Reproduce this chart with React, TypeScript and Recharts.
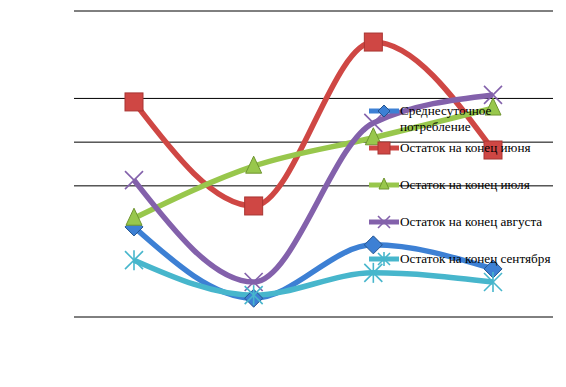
import React from "react";
import { CartesianGrid, Line, LineChart, XAxis, YAxis } from "recharts";

const categories = ["1", "2", "3", "4"];
const avgDaily = [2.06, 0.43, 1.65, 1.1];
const endJune = [4.92, 2.54, 6.29, 3.82];
const endJuly = [2.26, 3.45, 4.1, 4.78];
const endAugust = [3.13, 0.8, 4.44, 5.08];
const endSeptember = [1.3, 0.5, 1.01, 0.8];
const gridTicks = [0, 3, 4, 5, 7];

const series = [
  { key: "avg", name: "Среднесуточное потребление", values: avgDaily, color: "#3d80d4", shape: "diamond" },
  { key: "june", name: "Остаток на конец июня", values: endJune, color: "#cf4744", shape: "square" },
  { key: "july", name: "Остаток на конец июля", values: endJuly, color: "#98c74c", shape: "triangle" },
  { key: "aug", name: "Остаток на конец августа", values: endAugust, color: "#8361ab", shape: "x" },
  { key: "sep", name: "Остаток на конец сентября", values: endSeptember, color: "#47b6cc", shape: "star" },
];

const data = categories.map((c, i) => {
  const row: Record<string, any> = { name: c };
  series.forEach((s) => (row[s.key] = s.values[i]));
  return row;
});

function Marker({ cx, cy, shape, color, size = 9 }: any) {
  if (cx == null || cy == null) return null;
  const s = size;
  if (shape === "diamond")
    return (
      <polygon
        points={`${cx},${cy - s} ${cx + s},${cy} ${cx},${cy + s} ${cx - s},${cy}`}
        fill={color}
        stroke="#24548f"
        strokeWidth={1}
      />
    );
  if (shape === "square")
    return (
      <rect x={cx - s} y={cy - s} width={s * 2} height={s * 2} fill={color} stroke="#a83532" strokeWidth={1} />
    );
  if (shape === "triangle")
    return (
      <polygon
        points={`${cx},${cy - s - 1} ${cx + s - 1},${cy + s - 2} ${cx - s + 1},${cy + s - 2}`}
        fill={color}
        stroke="#6f9530"
        strokeWidth={1}
      />
    );
  if (shape === "x")
    return (
      <g stroke={color} strokeWidth={1.6}>
        <line x1={cx - s} y1={cy - s} x2={cx + s} y2={cy + s} />
        <line x1={cx - s} y1={cy + s} x2={cx + s} y2={cy - s} />
      </g>
    );
  return (
    <g stroke={color} strokeWidth={1.6}>
      <line x1={cx - s} y1={cy - s} x2={cx + s} y2={cy + s} />
      <line x1={cx - s} y1={cy + s} x2={cx + s} y2={cy - s} />
      <line x1={cx} y1={cy - s - 1} x2={cx} y2={cy + s + 1} />
    </g>
  );
}

function LegendBox() {
  return (
    <div
      style={{
        position: "absolute",
        left: 369,
        top: 103,
        width: 192,
        fontFamily: "Liberation Serif",
        fontSize: 13.2,
        lineHeight: "16px",
        color: "#000",
      }}
    >
      {series.map((s) => (
        <div key={s.key} style={{ display: "flex", height: 37, alignItems: "flex-start" }}>
          <svg width={31} height={16} style={{ flex: "none" }}>
            <line x1={0} y1={8} x2={30} y2={8} stroke={s.color} strokeWidth={5} />
            <Marker cx={15} cy={8} shape={s.shape} color={s.color} size={6} />
          </svg>
          <span style={{ width: 158 }}>{s.name}</span>
        </div>
      ))}
    </div>
  );
}

export default function App() {
  return (
    <div style={{ position: "absolute", left: 0, top: 0, width: 566, height: 387, background: "#fff" }}>
      <LineChart width={566} height={387} data={data} margin={{ top: 11, right: 13, bottom: 70, left: 74 }}>
        <CartesianGrid horizontal vertical={false} stroke="#000" strokeWidth={1} />
        <XAxis dataKey="name" hide padding={{ left: 60, right: 60 }} />
        <YAxis hide domain={[0, 7]} ticks={gridTicks} />
        {series.map((s) => (
          <Line
            key={s.key}
            type="monotone"
            dataKey={s.key}
            name={s.name}
            stroke={s.color}
            strokeWidth={5.5}
            isAnimationActive={false}
            dot={(p: any) => <Marker key={`${s.key}-${p.index}`} cx={p.cx} cy={p.cy} shape={s.shape} color={s.color} />}
            activeDot={false}
          />
        ))}
      </LineChart>
      <LegendBox />
    </div>
  );
}
